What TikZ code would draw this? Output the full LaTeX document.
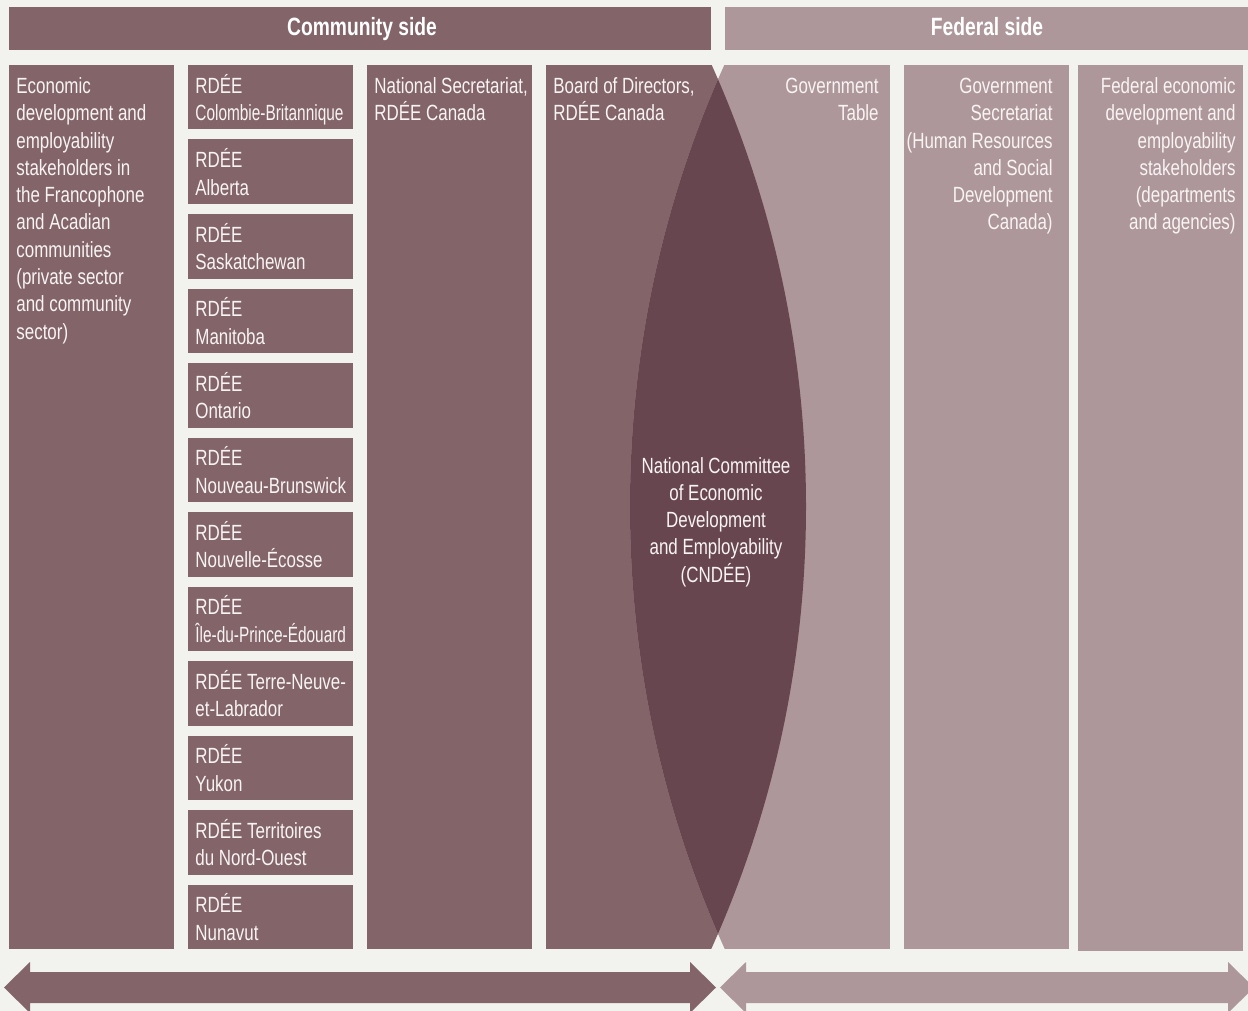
\documentclass[tikz,border=0pt]{standalone}
\usepackage{fontspec}
\setmainfont{Liberation Sans}[FakeStretch=0.77]
\newfontfamily\narrowfont{Liberation Sans}[FakeStretch=0.70]
\usepackage{xcolor}
\usepackage{tikz}
\usetikzlibrary{positioning}

\definecolor{commdark}{HTML}{826469}
\definecolor{fedlight}{HTML}{AE979A}
\definecolor{lensdark}{HTML}{684650}
\definecolor{bgpaper}{HTML}{F2F2EE}
\definecolor{txtwhite}{HTML}{F8F4F4}
% fixed height for the first line of every box text
\newcommand{\topstrut}{\rule{0pt}{11pt}}

\begin{document}
\begin{tikzpicture}[x=0.5pt,y=-0.5pt,
  txt/.style={font=\fontsize{11}{13.65}\selectfont, text=txtwhite, inner sep=0pt, anchor=north west, align=left},
  rtxt/.style={txt, anchor=north east, align=right},
  head/.style={font=\fontsize{12.5}{15}\selectfont\bfseries, text=white, inner sep=0pt, anchor=base}]
\useasboundingbox (0,0) rectangle (1248,1011);
\clip (0,0) rectangle (1248,1011);
\fill[bgpaper] (0,0) rectangle (1248,1011);

% Headers
\fill[commdark] (9,7) rectangle (711,50);
\node[head] (commhead) at (362,36) {Community side};
\fill[fedlight] (725,7) rectangle (1250,50);
\node[head] (fedhead) at (987,36) {Federal side};

% Community stakeholders
\fill[commdark] (9,65) rectangle (174,949);
\node[txt] (stake) at (16,71) {\topstrut Economic\\development and\\employability\\stakeholders in\\the Francophone\\and Acadian\\communities\\(private sector\\and community\\sector)};

% Provincial and territorial RDEE
\fill[commdark] (188,65) rectangle (353,129.5);
\node[txt] (rdeecb) at (195,71) {\topstrut RDÉE\\{\narrowfont Colombie-Britannique}};
\fill[commdark] (188,139.5) rectangle (353,204);
\node[txt] (rdeeab) at (195,145.5) {\topstrut RDÉE\\Alberta};
\fill[commdark] (188,214) rectangle (353,278.5);
\node[txt] (rdeesk) at (195,220) {\topstrut RDÉE\\Saskatchewan};
\fill[commdark] (188,288.5) rectangle (353,353);
\node[txt] (rdeemb) at (195,294.5) {\topstrut RDÉE\\Manitoba};
\fill[commdark] (188,363) rectangle (353,427.5);
\node[txt] (rdeeon) at (195,369) {\topstrut RDÉE\\Ontario};
\fill[commdark] (188,437.5) rectangle (353,502);
\node[txt] (rdeenb) at (195,443.5) {\topstrut RDÉE\\Nouveau-Brunswick};
\fill[commdark] (188,512) rectangle (353,576.5);
\node[txt] (rdeens) at (195,518) {\topstrut RDÉE\\Nouvelle-Écosse};
\fill[commdark] (188,586.5) rectangle (353,651);
\node[txt] (rdeepe) at (195,592.5) {\topstrut RDÉE\\{\narrowfont Île-du-Prince-Édouard}};
\fill[commdark] (188,661) rectangle (353,725.5);
\node[txt] (rdeenl) at (195,667) {\topstrut RDÉE Terre-Neuve-\\et-Labrador};
\fill[commdark] (188,735.5) rectangle (353,800);
\node[txt] (rdeeyt) at (195,741.5) {\topstrut RDÉE\\Yukon};
\fill[commdark] (188,810) rectangle (353,874.5);
\node[txt] (rdeent) at (195,816) {\topstrut RDÉE Territoires\\du Nord-Ouest};
\fill[commdark] (188,884.5) rectangle (353,949);
\node[txt] (rdeenu) at (195,890.5) {\topstrut RDÉE\\Nunavut};

% National secretariat
\fill[commdark] (367,65) rectangle (532,949);
\node[txt] (natsec) at (374,71) {\topstrut National Secretariat,\\RDÉE Canada};

% Board of directors (right side curved)
\begin{scope}
\clip (-271.5,506.5) circle (1077.5);
\fill[commdark] (546,65) rectangle (900,949);
\end{scope}
\node[txt] (board) at (553,71) {\topstrut Board of Directors,\\RDÉE Canada};

% Government table (left side curved)
\begin{scope}
\clip (1707.5,506.5) circle (1077.5);
\fill[fedlight] (600,65) rectangle (890,949);
\end{scope}
\node[rtxt] (govtable) at (879,71) {\topstrut Government\\Table};

% Overlap: CNDEE
\begin{scope}
\clip (-271.5,506.5) circle (1077.5);
\clip (1707.5,506.5) circle (1077.5);
\fill[lensdark] (600,65) rectangle (850,949);
\end{scope}
\node[txt, anchor=center, align=center] (cndee) at (716,522) {National Committee\\of Economic\\Development\\and Employability\\(CNDÉE)};

% Federal columns
\fill[fedlight] (904,65) rectangle (1069,949);
\node[rtxt] (govsec) at (1053,71) {\topstrut Government\\Secretariat\\(Human Resources\\and Social\\Development\\Canada)};
\fill[fedlight] (1078,65) rectangle (1243,951);
\node[rtxt] (fedstake) at (1236,71) {\topstrut Federal economic\\development and\\employability\\stakeholders\\(departments\\and agencies)};

% Bottom arrows
\fill[commdark] (4,987.5) -- (30,962) -- (30,972) -- (690,972) -- (690,962) -- (716,987.5)
  -- (690,1013) -- (690,1003) -- (30,1003) -- (30,1013) -- cycle;
\fill[fedlight] (720,987.5) -- (746,962) -- (746,972) -- (1228,972) -- (1228,962) -- (1254,987.5)
  -- (1228,1013) -- (1228,1003) -- (746,1003) -- (746,1013) -- cycle;

\end{tikzpicture}
\end{document}
